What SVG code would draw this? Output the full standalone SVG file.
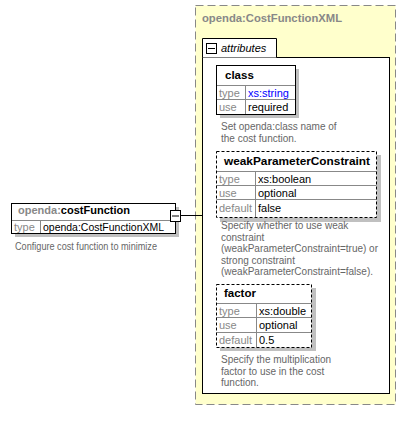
<svg xmlns="http://www.w3.org/2000/svg" width="414" height="423" viewBox="0 0 414 423">
<style>
text{font-family:"Liberation Sans",Arial,sans-serif;font-size:11px;fill:#000}
.ttl{font-weight:bold;font-size:11.5px}
.lbl{fill:#888}
.dsc{fill:#666;font-size:10px}
.gry{fill:#888}
.cell{fill:#fff;stroke:#000;stroke-width:1}
.dash{stroke-dasharray:3,2}
.sep{stroke:#888;stroke-width:1;fill:none}
.shd{fill:#c0c0c0}
.blu{fill:#0000ff}
</style>
<g id="complexType">
<rect x="195.5" y="5.5" width="200" height="399" fill="#ffffcc" stroke="#888" stroke-dasharray="8,4"/>
<text x="202" y="22" class="ttl gry" textLength="140" lengthAdjust="spacingAndGlyphs">openda:CostFunctionXML</text>
</g>
<g id="attributes">
<rect x="202.5" y="57.5" width="187" height="336" fill="#fff" stroke="#000"/>
<path d="M202.5 57.5 V38.5 H276.5 V57.5" fill="#fff" stroke="#000"/>
<rect x="206.5" y="43.5" width="10" height="10" fill="#fff" stroke="#000"/>
<line x1="208" y1="48.5" x2="215" y2="48.5" stroke="#000"/>
<text x="221" y="52" font-style="italic">attributes</text>
</g>
<g id="class">
<rect x="220" y="69" width="79" height="49" class="shd"/>
<rect x="216.5" y="65.5" width="79" height="49" class="cell"/>
<line x1="216.5" y1="85.5" x2="295.5" y2="85.5" class="sep"/>
<line x1="216.5" y1="99.5" x2="295.5" y2="99.5" class="sep"/>
<line x1="245.5" y1="85.5" x2="245.5" y2="114.5" class="sep"/>
<rect x="216.5" y="65.5" width="79" height="49" fill="none" stroke="#000"/>
<text x="225" y="79" class="ttl">class</text>
<text x="219" y="97" class="lbl">type</text>
<text x="248" y="97" class="blu">xs:string</text>
<text x="219" y="111" class="lbl">use</text>
<text x="248" y="111">required</text>
<text x="221" y="130" class="dsc">Set openda:class name of</text>
<text x="221" y="141.5" class="dsc">the cost function.</text>
</g>
<g id="weakParameterConstraint">
<rect x="220" y="155" width="161" height="67" class="shd"/>
<rect x="216.5" y="151.5" width="160" height="66" fill="#fff"/>
<line x1="216.5" y1="171.5" x2="376.5" y2="171.5" class="sep"/>
<line x1="216.5" y1="185.5" x2="376.5" y2="185.5" class="sep"/>
<line x1="216.5" y1="199.5" x2="376.5" y2="199.5" class="sep"/>
<line x1="255.5" y1="171.5" x2="255.5" y2="217.5" class="sep"/>
<rect x="216.5" y="151.5" width="160" height="66" fill="none" stroke="#000" class="dash"/>
<text x="224" y="165" class="ttl" textLength="146" lengthAdjust="spacingAndGlyphs">weakParameterConstraint</text>
<text x="219" y="183" class="lbl">type</text>
<text x="258" y="183">xs:boolean</text>
<text x="219" y="197" class="lbl">use</text>
<text x="258" y="197">optional</text>
<text x="219" y="212" class="lbl">default</text>
<text x="258" y="212">false</text>
<text x="221" y="229" class="dsc">Specify whether to use weak</text>
<text x="221" y="240.5" class="dsc">constraint</text>
<text x="221" y="252" class="dsc">(weakParameterConstraint=true) or</text>
<text x="221" y="263.5" class="dsc">strong constraint</text>
<text x="221" y="275" class="dsc">(weakParameterConstraint=false).</text>
</g>
<g id="factor">
<rect x="220" y="288" width="96" height="63" class="shd"/>
<rect x="216.5" y="284.5" width="95" height="63" fill="#fff"/>
<line x1="216.5" y1="303.5" x2="311.5" y2="303.5" class="sep"/>
<line x1="216.5" y1="317.5" x2="311.5" y2="317.5" class="sep"/>
<line x1="216.5" y1="332.5" x2="311.5" y2="332.5" class="sep"/>
<line x1="256.5" y1="303.5" x2="256.5" y2="347.5" class="sep"/>
<rect x="216.5" y="284.5" width="95" height="63" fill="none" stroke="#000" class="dash"/>
<text x="224" y="297" class="ttl">factor</text>
<text x="219" y="315" class="lbl">type</text>
<text x="259" y="315">xs:double</text>
<text x="219" y="329" class="lbl">use</text>
<text x="259" y="329">optional</text>
<text x="219" y="344" class="lbl">default</text>
<text x="259" y="344">0.5</text>
<text x="221" y="363" class="dsc">Specify the multiplication</text>
<text x="221" y="374.5" class="dsc">factor to use in the cost</text>
<text x="221" y="386" class="dsc">function.</text>
</g>
<g id="connectors">
<line x1="181" y1="215.5" x2="202.5" y2="215.5" stroke="#000"/>
</g>
<g id="costFunction">
<rect x="15" y="207" width="164" height="30" class="shd"/>
<rect x="11.5" y="203.5" width="164" height="30" fill="#fff" stroke="#000"/>
<line x1="11.5" y1="220.5" x2="175.5" y2="220.5" class="sep"/>
<line x1="40.5" y1="220.5" x2="40.5" y2="233.5" class="sep"/>
<rect x="11.5" y="203.5" width="164" height="30" fill="none" stroke="#000"/>
<text x="18" y="214" class="ttl" textLength="112" lengthAdjust="spacingAndGlyphs"><tspan class="gry">openda:</tspan>costFunction</text>
<text x="14" y="231" class="lbl">type</text>
<text x="43" y="231" textLength="121" lengthAdjust="spacingAndGlyphs">openda:CostFunctionXML</text>
<rect x="170.5" y="210.5" width="10" height="11" fill="#fff" stroke="#000"/>
<line x1="172" y1="216" x2="179" y2="216" stroke="#000"/>
<text x="15" y="250" class="dsc" textLength="142" lengthAdjust="spacingAndGlyphs">Configure cost function to minimize</text>
</g>
</svg>
